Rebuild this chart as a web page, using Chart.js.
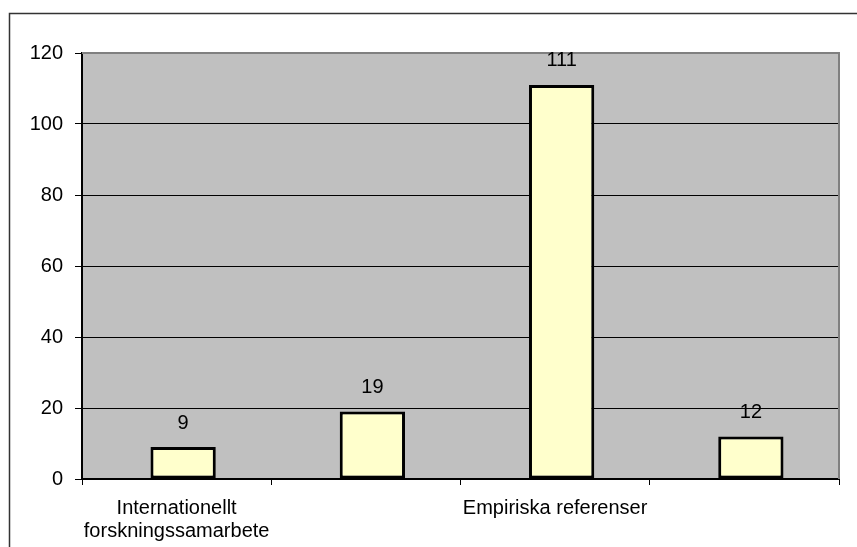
<!DOCTYPE html>
<html>
<head>
<meta charset="utf-8">
<script src="https://cdn.jsdelivr.net/npm/chart.js@4"></script>
<style>
  html, body { margin: 0; padding: 0; background: #fff; }
  #wrap { width: 857px; height: 547px; }
</style>
</head>
<body>
<div id="wrap"><canvas id="barChart" width="857" height="547"></canvas></div>
<script>
// category names (only every other one is printed on the axis)
const categories = [
    ['Internationellt', 'forskningssamarbete'],
    '',
    'Empiriska referenser',
    ''
];
const counts = [9, 19, 111, 12];
const yTicks = [0, 20, 40, 60, 80, 100, 120];

const FONT = { family: '"Liberation Sans", Arial, sans-serif', size: 20, lineHeight: 1.15 };
const BAR_NUDGE = 6.5; // bars sit slightly right of the category centre

// grey plot area, outer frame and the grey top/right edge of the plot
const framePlugin = {
    id: 'frame',
    afterDatasetsUpdate(chart) {
        chart.getDatasetMeta(0).data.forEach(bar => { bar.x += BAR_NUDGE; });
    },
    beforeDraw(chart) {
        const ctx = chart.ctx;
        const a = chart.chartArea;
        ctx.save();
        ctx.fillStyle = '#c0c0c0';
        ctx.fillRect(a.left, a.top, a.right - a.left, a.bottom - a.top);
        ctx.strokeStyle = '#333';
        ctx.lineWidth = 1.5;
        ctx.beginPath();
        ctx.moveTo(9.5, 600);
        ctx.lineTo(9.5, 13.5);
        ctx.lineTo(900, 13.5);
        ctx.stroke();
        ctx.restore();
    },
    afterDatasetsDraw(chart) {
        const ctx = chart.ctx;
        const a = chart.chartArea;
        ctx.save();
        ctx.strokeStyle = '#808080';
        ctx.lineWidth = 2;
        ctx.beginPath();
        ctx.moveTo(a.left, a.top);
        ctx.lineTo(a.right, a.top);
        ctx.lineTo(a.right, a.bottom);
        ctx.stroke();

        // value labels above each bar
        const meta = chart.getDatasetMeta(0);
        ctx.fillStyle = '#000';
        ctx.font = '20px "Liberation Sans", Arial, sans-serif';
        ctx.textAlign = 'center';
        ctx.textBaseline = 'middle';
        meta.data.forEach((bar, i) => {
            ctx.fillText(String(counts[i]), bar.x, bar.y - 24);
        });
        ctx.restore();
    }
};

new Chart(document.getElementById('barChart'), {
    type: 'bar',
    data: {
        labels: categories,
        datasets: [{
            data: counts,
            backgroundColor: '#ffffcc',
            borderColor: '#000',
            borderWidth: 3,
            borderSkipped: false,
            barPercentage: 0.345,
            categoryPercentage: 1
        }]
    },
    options: {
        responsive: false,
        animation: false,
        layout: { padding: { top: 53, right: 18, bottom: 0, left: 0 } },
        plugins: {
            legend: { display: false },
            tooltip: { enabled: false }
        },
        scales: {
            x: {
                afterFit(scale) { scale.height = 68; },
                grid: {
                    offset: true,
                    drawOnChartArea: false,
                    color: '#000',
                    tickLength: 6
                },
                border: { color: '#000', width: 2 },
                ticks: {
                    autoSkip: false,
                    maxRotation: 0,
                    padding: 12,
                    color: '#000',
                    font: FONT
                }
            },
            y: {
                min: 0,
                max: 120,
                afterFit(scale) { scale.width = 82; },
                afterBuildTicks(scale) { scale.ticks = yTicks.map(v => ({ value: v })); },
                grid: {
                    color: ctx => (ctx.tick && ctx.tick.value === 120 ? '#808080' : '#000'),
                    tickColor: '#000',
                    tickLength: 7
                },
                border: { color: '#000', width: 2 },
                ticks: {
                    padding: 12,
                    color: '#000',
                    font: FONT
                }
            }
        }
    },
    plugins: [framePlugin]
});
</script>
</body>
</html>
